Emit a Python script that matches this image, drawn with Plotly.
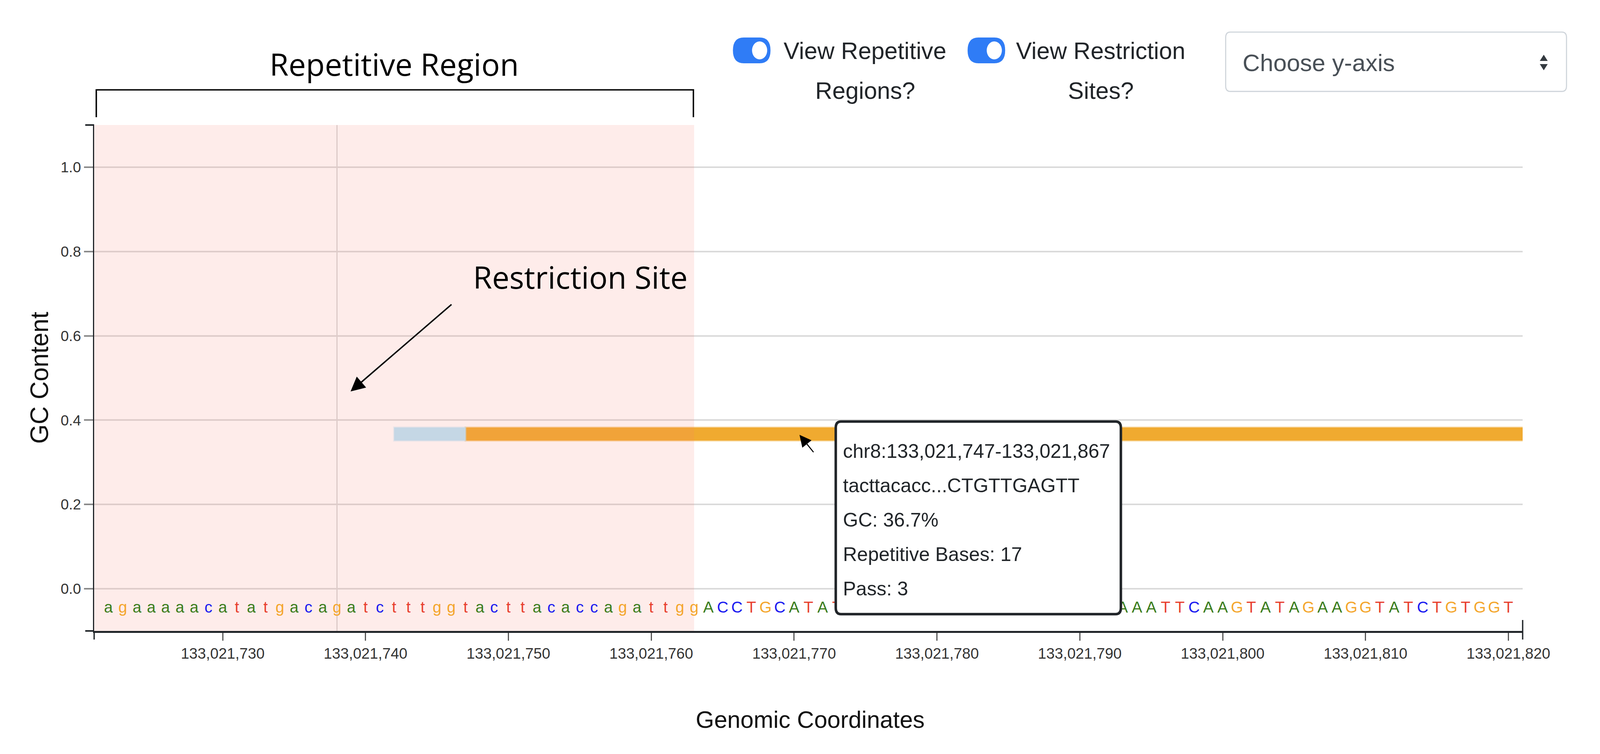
import plotly.graph_objects as go

# bases under the track (lowercase = repeat masked); N = hidden under the tooltip
seq_start = 133021722
sequence = (
    "agaaaaacatatgacagatctttggtacttacaccagattgg"
    "ACCTGCATATGG"
    "NNNNNNNNNNNNNNNNN"
    "AAATTCAAGTATAGAAGGTATCTGTGGT"
)
base_colors = {"a": "#3b7d1c", "c": "#1c1cf0", "g": "#f4a62c", "t": "#e8402f"}

view_start, view_end = 133021721, 133021821
repeat_start, repeat_end = 133021721, 133021763
restriction_sites = [133021738]

# GC windows: [previous window (only its first bases show), hovered window]
window_starts = [133021742, 133021747]
window_ends = [133021747, 133021867]
window_gc = [0.367, 0.367]
window_fill = ["#c5d7e5", "#f0aa30"]
window_ring = ["rgba(197,215,229,0.4)", "rgba(240,170,48,0.4)"]
hovered = 1
hovered_pass = 3
hovered_tail = "CTGTTGAGTT"

y_ticks = [0.0, 0.2, 0.4, 0.6, 0.8, 1.0]
x_ticks = list(range(133021730, 133021821, 10))

# layout measured on the 4855x1930 screenshot; the page viewport is ~4096x1930 css px
SX, SY = 4096 / 4855, 1.0
F = (SX * SY) ** 0.5  # text scale
W, H = 4080, 1914


def fx(v):
    # screenshot px -> figure px (body has an 8px margin)
    return v * SX - 8


def fy(v):
    return v * SY - 8


L, R, T, B = fx(286), fx(4620), fy(320), fy(1615)


def px(x):
    return (fx(x) - L) / (R - L)


def py(y):
    return (B - fy(y)) / (B - T)


def rrect(x0, y0, x1, y1, r):
    pts = [
        ("M", x0 + r, y0), ("L", x1 - r, y0), ("Q", x1, y0, x1, y0 + r),
        ("L", x1, y1 - r), ("Q", x1, y1, x1 - r, y1), ("L", x0 + r, y1),
        ("Q", x0, y1, x0, y1 - r), ("L", x0, y0 + r), ("Q", x0, y0, x0 + r, y0),
    ]
    out = []
    for p in pts:
        cmd, coords = p[0], p[1:]
        xy = []
        for i in range(0, len(coords), 2):
            xy.append(f"{px(coords[i]):.5f},{py(coords[i + 1]):.5f}")
        out.append(cmd + " ".join(xy))
    return " ".join(out) + " Z"


fig = go.Figure()

# hovered window bar
fig.add_trace(go.Bar(
    orientation="h",
    base=[window_starts[hovered]],
    x=[window_ends[hovered] - window_starts[hovered]],
    y=[window_gc[hovered]],
    width=0.031,
    marker=dict(color=window_fill[hovered], line=dict(color=window_ring[hovered], width=5)),
    hoverinfo="skip",
))

# repetitive region band
fig.add_trace(go.Bar(
    x=[(repeat_start + repeat_end) / 2],
    y=[1.2],
    base=-0.1,
    width=[repeat_end - repeat_start],
    marker=dict(color="rgba(250,128,114,0.15)", line=dict(width=0)),
    hoverinfo="skip",
))

# earlier window
fig.add_trace(go.Bar(
    orientation="h",
    base=[window_starts[0]],
    x=[window_ends[0] - window_starts[0]],
    y=[window_gc[0]],
    width=0.031,
    marker=dict(color=window_fill[0], line=dict(color=window_ring[0], width=5)),
    hoverinfo="skip",
))

# sequence letters
seq_x, seq_txt, seq_col = [], [], []
for i, b in enumerate(sequence):
    if b.lower() not in base_colors:
        continue
    seq_x.append(seq_start + i)
    seq_txt.append(b)
    seq_col.append(base_colors[b.lower()])
fig.add_trace(go.Scatter(
    x=seq_x, y=[-0.047] * len(seq_x), text=seq_txt, mode="text",
    textposition="middle center",
    textfont=dict(family="Liberation Sans, Arial", size=44 * F, color=seq_col),
    hoverinfo="skip",
))

shapes = []
for site in restriction_sites:
    shapes.append(dict(type="line", xref="x", yref="y", x0=site, x1=site, y0=-0.1, y1=1.1,
                       line=dict(color="#d0d0d0", width=3 * SX), layer="below"))

# bracket over repetitive region
shapes.append(dict(
    type="path", xref="x", yref="paper",
    path=f"M{repeat_start + 0.15},{py(300):.4f} L{repeat_start + 0.15},{py(230):.4f} "
         f"L{repeat_end - 0.05},{py(230):.4f} L{repeat_end - 0.05},{py(300):.4f}",
    line=dict(color="black", width=4 * F),
))

# axis outer ticks
dark = "#212529"
for x0, y0, x1, y1, w in [(259, 320, 286, 320, 4), (259, 1615, 286, 1615, 4),
                          (286, 1615, 286, 1637, 4 * SX), (4620, 1587, 4620, 1637, 4 * SX)]:
    shapes.append(dict(type="line", xref="paper", yref="paper", x0=px(x0), y0=py(y0),
                       x1=px(x1), y1=py(y1), line=dict(color=dark, width=w)))

# tooltip box
shapes.append(dict(type="path", xref="paper", yref="paper", path=rrect(2536, 1079, 3401, 1572, 16),
                   fillcolor="white", line=dict(color=dark, width=7 * F), layer="above"))

# toggles
for x0 in [2224, 2936]:
    shapes.append(dict(type="path", xref="paper", yref="paper", path=rrect(x0, 96, x0 + 114, 162, 33),
                       fillcolor="#2f7cf6", line=dict(width=0)))
    cx, cy, r = x0 + 114 - 33, 129, 23
    shapes.append(dict(type="circle", xref="paper", yref="paper", x0=px(cx - r), x1=px(cx + r),
                       y0=py(cy + r), y1=py(cy - r), fillcolor="white", line=dict(width=0)))

# dropdown
shapes.append(dict(type="path", xref="paper", yref="paper", path=rrect(3719, 82, 4753, 234, 14),
                   fillcolor="white", line=dict(color="#ced4da", width=3 * F)))
shapes.append(dict(type="path", xref="paper", yref="paper",
                   path=f"M{px(4672):.5f},{py(156):.5f} L{px(4696):.5f},{py(156):.5f} L{px(4684):.5f},{py(140):.5f} Z",
                   fillcolor="#343a40", line=dict(width=0)))
shapes.append(dict(type="path", xref="paper", yref="paper",
                   path=f"M{px(4672):.5f},{py(164):.5f} L{px(4696):.5f},{py(164):.5f} L{px(4684):.5f},{py(180):.5f} Z",
                   fillcolor="#343a40", line=dict(width=0)))

ui_font = "Liberation Sans, Arial"
ann_font = "Open Sans"
annotations = []


def label(text, x, y, size, color="#212529", family=ui_font, xanchor="center", **kw):
    annotations.append(dict(text=text, x=px(x), y=py(y), xref="paper", yref="paper",
                            showarrow=False, xanchor=xanchor, yanchor="middle",
                            font=dict(family=family, size=size, color=color), **kw))


# hand-drawn style labels
annotations.append(dict(text="Repetitive Region", x=(repeat_start + repeat_end) / 2, xref="x",
                        y=py(163), yref="paper", showarrow=False, yanchor="middle",
                        font=dict(family=ann_font, size=86 * F, color="black")))
label("Restriction Site", 1761, 708, 86 * F, color="black", family=ann_font)
annotations.append(dict(x=px(1064), y=py(1002), xref="paper", yref="paper", text="",
                        showarrow=True, ax=(1372 - 1064) * SX, ay=(778 - 1002) * SY, arrowhead=2,
                        arrowsize=2, arrowwidth=4 * F, arrowcolor="black"))
# cursor
annotations.append(dict(x=px(2426), y=py(1113), xref="paper", yref="paper", text="",
                        showarrow=True, ax=44 * SX, ay=46 * SY, arrowhead=2,
                        arrowsize=2.2, arrowwidth=3 * F, arrowcolor="black"))

# tooltip text
w0, w1 = window_starts[hovered], window_ends[hovered]
i0 = w0 - seq_start
repeat_bases = sum(1 for p in range(w0, w1 + 1) if repeat_start <= p <= repeat_end)
tooltip_lines = [
    f"chr8:{w0:,}-{w1:,}",
    f"{sequence[i0:i0 + 10]}...{hovered_tail}",
    f"GC: {window_gc[hovered] * 100:.1f}%",
    f"Repetitive Bases: {repeat_bases}",
    f"Pass: {hovered_pass}",
]
for k, line in enumerate(tooltip_lines):
    label(line, 2556, 1155 + 88 * k, 50)

for a in annotations[-5:]:
    a["xanchor"] = "left"

# controls
label("View Repetitive", 2625, 130, 66 * F)
label("Regions?", 2625, 232, 66 * F)
label("View Restriction", 3340, 130, 66 * F)
label("Sites?", 3340, 232, 66 * F)
label("Choose y-axis", 3768, 160, 67 * F, color="#495057", xanchor="left")

# axis titles
label("Genomic Coordinates", 2458, 1842, 66 * F, color="#111")
label("GC Content", 120, 967, 64 * SY, color="#111", textangle=-90)

fig.update_layout(
    width=W, height=H,
    margin=dict(l=L, r=W - R, t=T, b=H - B, pad=0),
    paper_bgcolor="white", plot_bgcolor="white",
    barmode="overlay", showlegend=False, hovermode=False,
    shapes=shapes, annotations=annotations,
    xaxis=dict(
        range=[view_start, view_end], tickvals=x_ticks, tickformat=",d",
        ticks="outside", ticklen=20 * SY, tickwidth=4 * SX, tickcolor="#555",
        showline=True, linecolor=dark, linewidth=5 * SY, showgrid=False, zeroline=False,
        tickfont=dict(family=ui_font, size=42 * F, color="#333"),
    ),
    yaxis=dict(
        range=[-0.1, 1.1], tickvals=y_ticks, tickformat=".1f",
        ticks="outside", ticklen=27 * SX, tickwidth=4 * SY, tickcolor="#8a8a8a",
        showline=True, linecolor=dark, linewidth=4 * SX,
        showgrid=True, gridcolor="#dadada", gridwidth=4 * SY, zeroline=False,
        tickfont=dict(family=ui_font, size=41 * F, color="#333"),
    ),
)

fig.write_html("out.html", config={"displayModeBar": False})
